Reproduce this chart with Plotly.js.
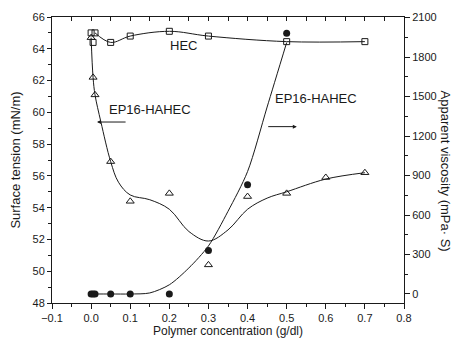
<!DOCTYPE html>
<html><head><meta charset="utf-8">
<script src="https://cdn.plot.ly/plotly-3.0.1.min.js"></script>
<style>html,body{margin:0;padding:0;background:#fff}</style>
</head><body><div id="chart" style="width:454px;height:341px"></div>
<script>
// HEC surface tension (open squares, left axis)
const hecX = [0, 0.005, 0.01, 0.05, 0.1, 0.2, 0.3, 0.5, 0.7];
const hecY = [65.0, 64.4, 65.0, 64.4, 64.8, 65.1, 64.8, 64.45, 64.45];
const hecLineX = [0.01, 0.05, 0.1, 0.2, 0.3, 0.5, 0.7];
const hecLineY = [65.0, 64.4, 64.8, 65.1, 64.8, 64.45, 64.45];
// EP16-HAHEC surface tension (open triangles, left axis)
const epX = [0, 0.005, 0.01, 0.05, 0.1, 0.2, 0.3, 0.4, 0.5, 0.6, 0.7];
const epY = [64.7, 62.2, 61.1, 56.9, 54.4, 54.9, 50.4, 54.7, 54.9, 55.9, 56.2];
// fitted curve drawn through EP16-HAHEC surface tension
const epFitX = [0, 0.005, 0.01, 0.025, 0.05, 0.07, 0.1, 0.15, 0.2, 0.25, 0.3, 0.35, 0.4, 0.45, 0.5, 0.6, 0.7];
const epFitY = [64.7, 62.2, 61.1, 59.4, 56.9, 55.6, 54.8, 54.5, 53.9, 52.5, 51.9, 52.6, 53.9, 54.6, 55.0, 55.8, 56.2];
// EP16-HAHEC apparent viscosity (filled circles, right axis)
const viscX = [0, 0.005, 0.01, 0.05, 0.1, 0.2, 0.3, 0.4, 0.5];
const viscY = [0, 0, 0, 0, 0, 0, 330, 830, 1980];
// fitted viscosity curve
const viscFitX = [0, 0.05, 0.1, 0.15, 0.2, 0.25, 0.3, 0.35, 0.4, 0.45, 0.5];
const viscFitY = [0, 0, 0, 8, 70, 198, 365, 628, 930, 1420, 1910];

const FONT = 'Arial, "Liberation Sans", sans-serif';
const ink = '#1a1a1a';

const traces = [
  {x: hecLineX, y: hecLineY, mode: 'lines', line: {color: ink, width: 1, shape: 'spline'}, xaxis: 'x', yaxis: 'y', hoverinfo: 'skip'},
  {x: hecX, y: hecY, mode: 'markers', marker: {symbol: 'square-open', size: 6, color: ink, line: {width: 1}}, xaxis: 'x', yaxis: 'y'},
  {x: epFitX, y: epFitY, mode: 'lines', line: {color: ink, width: 1, shape: 'spline', smoothing: 1}, xaxis: 'x', yaxis: 'y', hoverinfo: 'skip'},
  {x: epX, y: epY, mode: 'markers', marker: {symbol: 'triangle-up-open', size: 7, color: ink, line: {width: 1}}, xaxis: 'x', yaxis: 'y'},
  {x: viscFitX, y: viscFitY, mode: 'lines', line: {color: ink, width: 1, shape: 'spline', smoothing: 0.8}, xaxis: 'x2', yaxis: 'y2', hoverinfo: 'skip'},
  {x: viscX, y: viscY, mode: 'markers', marker: {symbol: 'circle', size: 7, color: ink}, xaxis: 'x2', yaxis: 'y2'}
];

const layout = {
  width: 454, height: 341,
  margin: {l: 52, r: 50, t: 17, b: 38},
  paper_bgcolor: '#fff', plot_bgcolor: '#fff',
  showlegend: false,
  font: {family: FONT, size: 11, color: ink},
  xaxis: {
    range: [-0.1, 0.8], dtick: 0.1, tick0: 0, tickformat: '.1f',
    showgrid: false, zeroline: false, showline: true, linecolor: ink, linewidth: 1,
    ticks: 'outside', ticklen: 5, tickcolor: ink,
    minor: {dtick: 0.05, ticks: 'outside', ticklen: 3, tickcolor: ink},
    tickfont: {size: 11, family: FONT},
    title: {text: 'Polymer concentration (g/dl)', font: {size: 12, family: FONT}, standoff: 2}
  },
  xaxis2: {
    overlaying: 'x', side: 'top', anchor: 'y2', matches: 'x',
    range: [-0.1, 0.8], dtick: 0.05, tick0: 0,
    showgrid: false, zeroline: false, showline: true, linecolor: ink, linewidth: 1,
    ticks: 'inside', ticklen: 4, tickcolor: ink, showticklabels: false
  },
  yaxis: {
    range: [48, 66], dtick: 2, tick0: 48,
    showgrid: false, zeroline: false, showline: true, linecolor: ink, linewidth: 1,
    ticks: 'outside', ticklen: 4, tickcolor: ink,
    minor: {dtick: 1, ticks: 'outside', ticklen: 3, tickcolor: ink},
    tickfont: {size: 11, family: FONT},
    title: {text: 'Surface tension (mN/m)', font: {size: 13, family: FONT}, standoff: 8}
  },
  yaxis2: {
    overlaying: 'y', side: 'right', anchor: 'x2',
    range: [-68.4, 2103.8], dtick: 300, tick0: 0,
    showgrid: false, zeroline: false, showline: true, linecolor: ink, linewidth: 1,
    ticks: 'outside', ticklen: 5, tickcolor: ink,
    minor: {dtick: 150, ticks: 'outside', ticklen: 3, tickcolor: ink},
    tickfont: {size: 11, family: FONT}
  },
  annotations: [
    {x: 0.236, y: 64.19, xref: 'x', yref: 'y', text: 'HEC', showarrow: false, font: {size: 13, family: FONT, color: ink}},
    {x: 0.151, y: 60.2, xref: 'x', yref: 'y', text: 'EP16-HAHEC', showarrow: false, font: {size: 13, family: FONT, color: ink}},
    {x: 0.575, y: 60.9, xref: 'x', yref: 'y', text: 'EP16-HAHEC', showarrow: false, font: {size: 13, family: FONT, color: ink}},
    {x: 0.015, y: 59.39, ax: 0.092, ay: 59.39, xref: 'x', yref: 'y', axref: 'x', ayref: 'y', text: '', showarrow: true, arrowhead: 2, arrowsize: 0.8, arrowwidth: 1, arrowcolor: ink},
    {x: 0.526, y: 59.1, ax: 0.449, ay: 59.1, xref: 'x', yref: 'y', axref: 'x', ayref: 'y', text: '', showarrow: true, arrowhead: 2, arrowsize: 0.8, arrowwidth: 1, arrowcolor: ink},
    {x: 1.119, y: 0.46, xref: 'paper', yref: 'paper', xanchor: 'center', yanchor: 'middle', text: 'Apparent viscosity (mPa· S)', textangle: 90, showarrow: false, font: {size: 13, family: FONT, color: ink}}
  ]
};

Plotly.newPlot('chart', traces, layout, {displayModeBar: false, staticPlot: true});
</script></body></html>
